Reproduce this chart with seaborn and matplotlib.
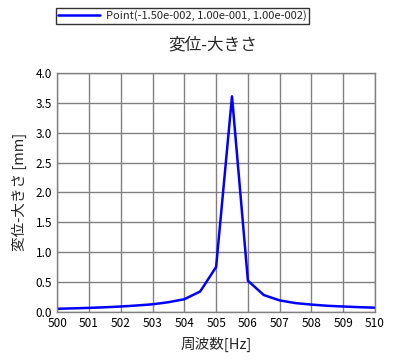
import numpy as np
import pandas as pd
import matplotlib
matplotlib.use("Agg")
import matplotlib.pyplot as plt
import seaborn as sns

# Data
freq = [500.0, 500.5, 501.0, 501.5, 502.0, 502.5, 503.0, 503.5, 504.0, 504.5,
        505.0, 505.5, 506.0, 506.5, 507.0, 507.5, 508.0, 508.5, 509.0, 509.5, 510.0]
magnitude = [0.050, 0.057, 0.065, 0.075, 0.088, 0.105, 0.125, 0.160, 0.210, 0.340,
             0.750, 3.610, 0.520, 0.280, 0.190, 0.145, 0.120, 0.100, 0.088, 0.077, 0.068]
series_name = "Point(-1.50e-002, 1.00e-001, 1.00e-002)"
x_ticks = list(range(500, 511))
y_ticks = [0.0, 0.5, 1.0, 1.5, 2.0, 2.5, 3.0, 3.5, 4.0]

df = pd.DataFrame({"freq": freq, "mag": magnitude})

sns.set_theme(style="white")
plt.rcParams["font.family"] = ["Noto Sans CJK JP", "DejaVu Sans"]

fig = plt.figure(figsize=(3.94, 3.6), dpi=100)
ax = fig.add_axes([0.145, 0.134, 0.807, 0.663])

sns.lineplot(data=df, x="freq", y="mag", ax=ax, color="#0000ff", linewidth=1.8,
             label=series_name, legend=False)

ax.set_xlim(500, 510)
ax.set_ylim(0, 4.0)
ax.set_xticks(x_ticks)
ax.set_yticks(y_ticks)
ax.set_xticklabels([str(t) for t in x_ticks], fontsize=8.5)
ax.set_yticklabels([f"{t:.1f}" for t in y_ticks], fontsize=8.5)
ax.tick_params(axis="x", length=0, pad=3.5, colors="black")
ax.tick_params(axis="y", length=0, pad=3.5, colors="black")
ax.grid(True, color="#808080", linewidth=1.0)
ax.set_axisbelow(True)
for sp in ax.spines.values():
    sp.set_color("#808080")
    sp.set_linewidth(1.0)

ax.set_xlabel("周波数[Hz]", fontsize=10.5, labelpad=5)
ax.set_ylabel("変位-大きさ [mm]", fontsize=10.5, labelpad=6)
fig.text(0.54, 0.875, "変位-大きさ", ha="center", va="center", fontsize=12)

handles, labels = ax.get_legend_handles_labels()
leg = fig.legend(handles, labels, loc="center", bbox_to_anchor=(0.462, 0.9556),
                 fontsize=8, frameon=True, fancybox=False, borderpad=0.2,
                 handlelength=3.8, handletextpad=0.5, borderaxespad=0)
leg.get_frame().set_edgecolor("black")
leg.get_frame().set_linewidth(1.0)

fig.savefig("out.png", dpi=100, facecolor="white")
